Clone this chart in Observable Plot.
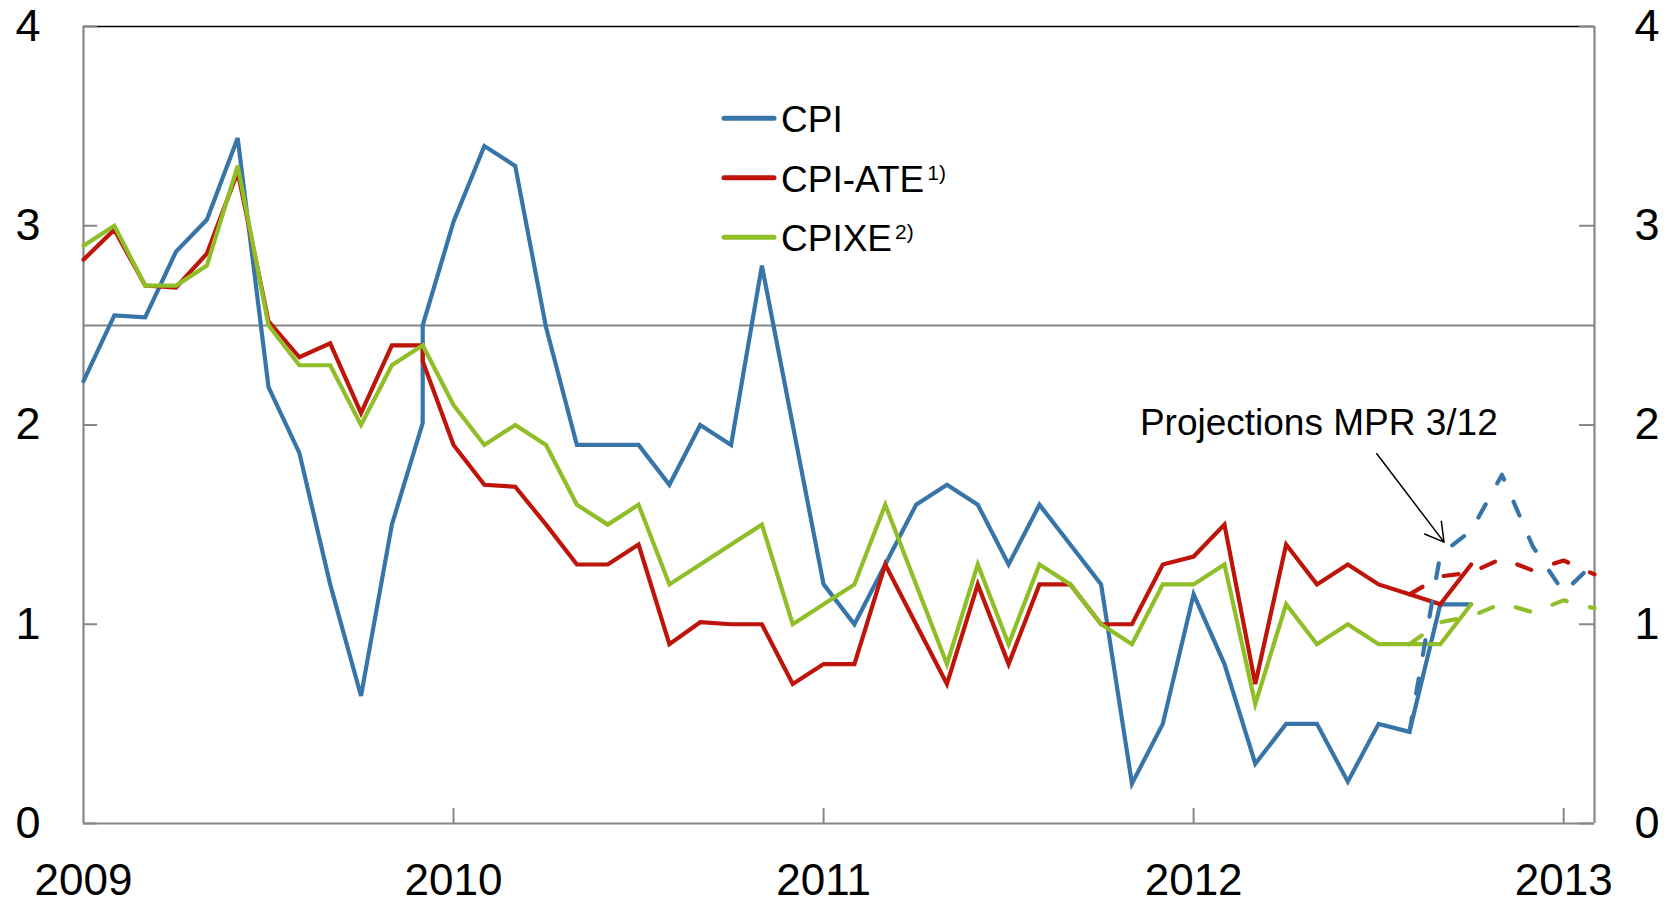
<!DOCTYPE html>
<html>
<head>
<meta charset="utf-8">
<script src="https://cdn.jsdelivr.net/npm/d3@7"></script>
<script src="https://cdn.jsdelivr.net/npm/@observablehq/plot@0.6"></script>
<style>
html, body { margin: 0; padding: 0; background: #fff; overflow: hidden; }
#wrap { position: relative; width: 1677px; height: 904px; font-family: "Liberation Sans", Arial, sans-serif; }
#wrap svg { display: block; }
#overlay { position: absolute; left: 0; top: 0; pointer-events: none; }
</style>
</head>
<body>
<div id="wrap"></div>
<script>
// ---------- data ----------
// Plotted month of each observation (the reference plots two points at Dec 2009)
const periods = [
  "2009-01","2009-02","2009-03","2009-04","2009-05","2009-06","2009-07","2009-08","2009-09","2009-10","2009-11","2009-12",
  "2009-12",
  "2010-01","2010-02","2010-03","2010-04","2010-05","2010-06","2010-07","2010-08","2010-09","2010-10","2010-11","2010-12",
  "2011-01","2011-02","2011-03","2011-04","2011-05","2011-06","2011-07","2011-08","2011-09","2011-10","2011-11","2011-12",
  "2012-01","2012-02","2012-03","2012-04","2012-05","2012-06","2012-07","2012-08","2012-09","2012-10"
];
const cpi = [
  2.22, 2.55, 2.54, 2.87, 3.03, 3.44, 2.19, 1.86, 1.20, 0.64, 1.50, 2.01,
  2.50,
  3.02, 3.40, 3.30, 2.49, 1.90, 1.90, 1.90, 1.70, 2.00, 1.90, 2.80, 2.00,
  1.20, 1.00, 1.30, 1.60, 1.70, 1.60, 1.30, 1.60, 1.40, 1.20, 0.20, 0.50,
  1.15, 0.80, 0.30, 0.50, 0.50, 0.21, 0.50, 0.46, 1.10, 1.10
];
const cpiAte = [
  2.83, 2.98, 2.70, 2.69, 2.86, 3.27, 2.52, 2.34, 2.41, 2.06, 2.40, 2.40,
  2.32,
  1.90, 1.70, 1.69, 1.50, 1.30, 1.30, 1.40, 0.90, 1.01, 1.00, 1.00, 0.70,
  0.80, 0.80, 1.30, 1.00, 0.70, 1.20, 0.80, 1.20, 1.20, 1.00, 1.00, 1.30,
  1.34, 1.50, 0.70, 1.40, 1.20, 1.30, 1.20, 1.15, 1.10, 1.30
];
const cpixe = [
  2.90, 3.00, 2.70, 2.70, 2.80, 3.30, 2.50, 2.30, 2.30, 2.00, 2.30, 2.40,
  2.40,
  2.10, 1.90, 2.00, 1.90, 1.60, 1.50, 1.60, 1.20, 1.30, 1.40, 1.50, 1.00,
  1.10, 1.20, 1.60, 1.20, 0.80, 1.30, 0.90, 1.30, 1.20, 1.00, 0.90, 1.20,
  1.20, 1.30, 0.60, 1.10, 0.90, 1.00, 0.90, 0.90, 0.90, 1.10
];
// Projections MPR 3/12 (dashed)
const projPeriods = ["2012-08","2012-09","2012-10","2012-11","2012-12","2013-01","2013-02"];
const cpiProj    = [0.46, 1.35, 1.47, 1.75, 1.39, 1.16, 1.31];
const cpiAteProj = [1.15, 1.24, 1.26, 1.33, 1.27, 1.32, 1.25];
const cpixeProj  = [0.90, 1.01, 1.04, 1.105, 1.06, 1.12, 1.08];

const seriesNames  = ["CPI", "CPI-ATE", "CPIXE"];
const seriesSup    = ["", "1)", "2)"];
const seriesColors = ["#3775A8", "#BF140A", "#8FBE28"];

const yTicks = [0, 1, 2, 3, 4];
const yLabels = ["0", "1", "2", "3", "4"];
const yearLabels = ["2009", "2010", "2011", "2012", "2013"];
const xStart = "2009-01", xEnd = "2013-02";
const inflationTarget = 2.5;

const noteText = [{period: "2012-05", offset: 0.06, y: 2.01, text: "Projections MPR 3/12"}];
const noteArrow = [{x1: 41.94, y1: 1.856, x2: 44.12, y2: 1.412}];

// ---------- build ----------
const monthIndex = s => { const [y, m] = s.split("-").map(Number); return (y - 2009) * 12 + (m - 1); };
const xDomain = [monthIndex(xStart), monthIndex(xEnd)];
const yearTicks = yearLabels.map(y => monthIndex(y + "-01"));

const actualVals = [cpi, cpiAte, cpixe];
const projVals = [cpiProj, cpiAteProj, cpixeProj];
const actual = [], proj = [];
seriesNames.forEach((name, s) => {
  periods.forEach((p, i) => actual.push({series: name, x: monthIndex(p), v: actualVals[s][i]}));
  projPeriods.forEach((p, i) => proj.push({series: name, x: monthIndex(p), v: projVals[s][i]}));
});

const W = 1677, H = 904, mL = 83, mR = 83, mT = 26, mB = 81;
const plotW = W - mL - mR, plotH = H - mT - mB;
const gray = "#868686";
const font = '"Liberation Sans", Arial, sans-serif';

const lineMarks = seriesNames.map((name, s) =>
  Plot.line(actual.filter(d => d.series === name), {
    x: "x", y: "v", stroke: seriesColors[s], strokeWidth: 4.2,
    strokeLinejoin: "miter", strokeMiterlimit: 4, curve: "linear"
  }));
const projMarks = seriesNames.map((name, s) =>
  Plot.line(proj.filter(d => d.series === name), {
    x: "x", y: "v", stroke: seriesColors[s], strokeWidth: 4.2,
    strokeDasharray: "15,24", strokeLinecap: "round", strokeLinejoin: "round"
  }));

const chart = Plot.plot({
  width: W, height: H,
  marginLeft: mL, marginRight: mR, marginTop: mT, marginBottom: mB,
  x: {type: "linear", domain: xDomain, axis: null},
  y: {type: "linear", domain: [yTicks[0], yTicks[yTicks.length - 1]], axis: null},
  style: {fontFamily: font, color: "#000", background: "#fff", overflow: "visible"},
  marks: [
    Plot.ruleY([inflationTarget], {stroke: gray, strokeWidth: 2}),
    Plot.ruleY([yTicks[yTicks.length - 1]], {stroke: "#000", strokeWidth: 1.6}),
    Plot.tickY(yTicks, {y: d => d, stroke: gray, strokeWidth: 2, insetRight: plotW - 14}),
    Plot.tickY(yTicks, {y: d => d, stroke: gray, strokeWidth: 2, insetLeft: plotW - 15}),
    Plot.tickX(yearTicks.filter(t => t > xDomain[0]), {x: d => d, stroke: gray, strokeWidth: 2, insetTop: plotH - 15}),
    Plot.ruleX(xDomain, {stroke: gray, strokeWidth: 2.2}),
    Plot.ruleY([yTicks[0]], {stroke: gray, strokeWidth: 2.2}),
    Plot.axisY(yTicks, {anchor: "left", tickSize: 0, tickPadding: 43, fontSize: 45,
      tickFormat: d => yLabels[yTicks.indexOf(d)]}),
    Plot.axisY(yTicks, {anchor: "right", tickSize: 0, tickPadding: 40, fontSize: 45,
      tickFormat: d => yLabels[yTicks.indexOf(d)]}),
    Plot.axisX(yearTicks, {anchor: "bottom", tickSize: 0, tickPadding: 40, fontSize: 44,
      tickFormat: d => yearLabels[yearTicks.indexOf(d)]}),
    ...lineMarks,
    ...projMarks,
    Plot.arrow(noteArrow, {x1: "x1", y1: "y1", x2: "x2", y2: "y2", stroke: "#000",
      strokeWidth: 1.5, headLength: 21, headAngle: 60}),
    Plot.text(noteText, {x: d => monthIndex(d.period) + d.offset, y: "y", text: "text",
      fontSize: 37, textAnchor: "middle", fill: "#000"})
  ]
});
const wrap = document.getElementById("wrap");
wrap.appendChild(chart);

// ---------- legend (inside the plot area, top centre) ----------
const ns = "http://www.w3.org/2000/svg";
const ov = document.createElementNS(ns, "svg");
ov.setAttribute("id", "overlay");
ov.setAttribute("width", W); ov.setAttribute("height", H);
const legX1 = 724, legX2 = 774, legTextX = 781, legY0 = 118.3, legStep = 59.5;
seriesNames.forEach((name, s) => {
  const y = legY0 + s * legStep;
  const ln = document.createElementNS(ns, "line");
  ln.setAttribute("x1", legX1); ln.setAttribute("x2", legX2);
  ln.setAttribute("y1", y); ln.setAttribute("y2", y);
  ln.setAttribute("stroke", seriesColors[s]); ln.setAttribute("stroke-width", 5);
  ln.setAttribute("stroke-linecap", "round");
  ov.appendChild(ln);
  const t = document.createElementNS(ns, "text");
  t.setAttribute("x", legTextX); t.setAttribute("y", y + 14);
  t.setAttribute("font-family", font); t.setAttribute("font-size", 37); t.setAttribute("fill", "#000");
  t.appendChild(document.createTextNode(name));
  if (seriesSup[s]) {
    const sp = document.createElementNS(ns, "tspan");
    sp.setAttribute("font-size", 21); sp.setAttribute("dx", 3); sp.setAttribute("dy", -12);
    sp.textContent = seriesSup[s];
    t.appendChild(sp);
  }
  ov.appendChild(t);
});
wrap.appendChild(ov);
</script>
</body>
</html>
